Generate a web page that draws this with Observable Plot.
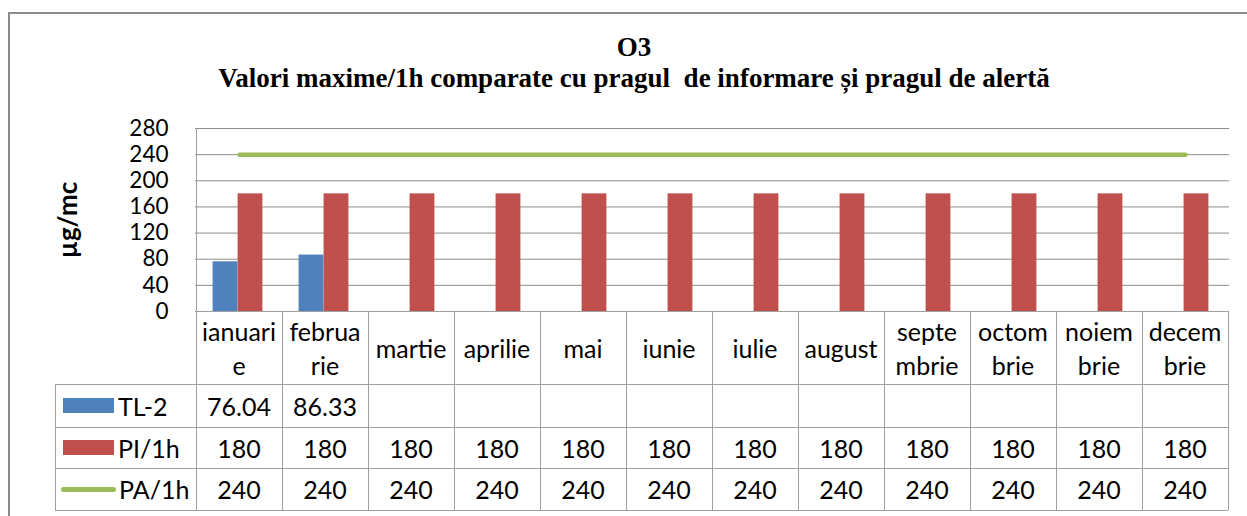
<!DOCTYPE html>
<html>
<head>
<meta charset="utf-8">
<script src="https://cdn.jsdelivr.net/npm/d3@7"></script>
<script src="https://cdn.jsdelivr.net/npm/@observablehq/plot@0.6"></script>
<style>
  body { margin: 0; background: #fff; }
  #wrap { position: relative; width: 1247px; height: 516px; overflow: hidden; background: #fff; font-family: Lato, "Open Sans", sans-serif; color: #000; }
  #frame { position: absolute; left: 8px; top: 12px; width: 1400px; height: 700px; border: 2px solid #8c8c8c; }
  .ttl { position: absolute; left: 8px; width: 1252px; text-align: center; font-family: "Liberation Serif", "DejaVu Serif", serif; font-weight: bold; line-height: 1; white-space: pre; }
  #t1 { top: 34px; font-size: 27px; }
  #t2 { top: 65px; font-size: 27px; }
  #ylab { position: absolute; left: 67px; top: 220px; transform: translate(-50%, -50%) rotate(-90deg); font-weight: bold; font-size: 26px; white-space: nowrap; }
  #chart { position: absolute; left: 0; top: 100px; }
  .ln { position: absolute; background: #a0a0a0; }
  .cell { position: absolute; display: flex; align-items: center; justify-content: center; text-align: center; font-size: 25px; line-height: 34px; }
  .lg { position: absolute; display: flex; align-items: center; font-size: 25px; }
</style>
</head>
<body>
<div id="wrap">
  <div id="frame"></div>
  <div id="t1" class="ttl">O3</div>
  <div id="t2" class="ttl">Valori maxime/1h comparate cu pragul  de informare și pragul de alertă</div>
  <div id="ylab">µg/mc</div>
  <div id="chart"></div>
  <div id="table"></div>
</div>
<script>
// ---- data ----
const months = ["ianuarie","februarie","martie","aprilie","mai","iunie","iulie","august","septembrie","octombrie","noiembrie","decembrie"];
const monthLabels = [["ianuari","e"],["februa","rie"],["martie"],["aprilie"],["mai"],["iunie"],["iulie"],["august"],["septe","mbrie"],["octom","brie"],["noiem","brie"],["decem","brie"]];
const tl2 = [76.04, 86.33, null, null, null, null, null, null, null, null, null, null];
const pi1h = [180, 180, 180, 180, 180, 180, 180, 180, 180, 180, 180, 180];
const pa1h = [240, 240, 240, 240, 240, 240, 240, 240, 240, 240, 240, 240];
const yTicks = [0, 40, 80, 120, 160, 200, 240, 280];
const seriesNames = ["TL-2", "PI/1h", "PA/1h"];
const colors = {"TL-2": "#4F81BD", "PI/1h": "#C0504D", "PA/1h": "#9BBB59"};

// ---- layout ----
const W = 1247, mL = 195, mR = 18;
const bw = (W - mL - mR) / months.length;
const barW = bw * 0.29;

const tlData = months.map((m, i) => ({month: m, value: tl2[i]})).filter(d => d.value != null);
const piData = months.map((m, i) => ({month: m, value: pi1h[i]}));
const paData = months.map((m, i) => ({month: m, value: pa1h[i]}));

const chart = Plot.plot({
  width: W,
  height: 215,
  marginLeft: mL,
  marginRight: mR,
  marginTop: 28,
  marginBottom: 4,
  style: {fontFamily: "Lato, 'Open Sans', sans-serif", fontSize: "22px", background: "transparent", color: "#000", overflow: "visible"},
  x: {domain: months, padding: 0, axis: null},
  y: {domain: [0, 280], axis: null},
  marks: [
    Plot.ruleY(yTicks, {stroke: "#8c8c8c", strokeWidth: 1, strokeOpacity: 1}),
    Plot.axisY({ticks: yTicks, tickSize: 0, tickPadding: 27, label: null, fill: "#000", fontSize: 22.5, tickFormat: d => String(d)}),
    Plot.barY(tlData, {x: "month", y: "value", fill: colors["TL-2"], insetLeft: bw / 2 - barW - 1.5, insetRight: bw / 2 + 1.5}),
    Plot.barY(piData, {x: "month", y: "value", fill: colors["PI/1h"], insetLeft: bw / 2 - 1.5, insetRight: bw / 2 - barW + 1.5}),
    Plot.lineY(paData, {x: "month", y: "value", stroke: colors["PA/1h"], strokeWidth: 4.5, strokeLinecap: "round"})
  ]
});
document.getElementById("chart").appendChild(chart);

// ---- data table (aligned to the plot's x scale) ----
const xs = chart.scale("x");
const ys = chart.scale("y");
const chartTop = 100;
const plotTop = chartTop + ys.apply(280);
const axisY0 = chartTop + ys.apply(0);
const step = xs.bandwidth;
const xLeft = xs.apply(months[0]);
const xRight = xs.apply(months[months.length - 1]) + step;
const legendLeft = 55;
const rowH = [73, 43, 41, 42];
const rowTop = [axisY0];
rowH.forEach(h => rowTop.push(rowTop[rowTop.length - 1] + h));
const tbl = document.getElementById("table");

function line(x, y, w, h) {
  const d = document.createElement("div");
  d.className = "ln";
  Object.assign(d.style, {left: x + "px", top: y + "px", width: w + "px", height: h + "px"});
  tbl.appendChild(d);
}
function cell(x, y, w, h, html) {
  const d = document.createElement("div");
  d.className = "cell";
  Object.assign(d.style, {left: x + "px", top: y + "px", width: w + "px", height: h + "px"});
  d.innerHTML = html;
  tbl.appendChild(d);
}
// plot-area left axis line + table verticals
line(xLeft - 0.5, plotTop, 1.2, rowTop[4] - plotTop);
months.forEach(m => line(xs.apply(m) + step - 0.5, axisY0, 1.2, rowTop[4] - axisY0));
line(legendLeft - 0.5, rowTop[1], 1.2, rowTop[4] - rowTop[1]);
// horizontals
line(xLeft, axisY0 - 0.5, xRight - xLeft, 1.2);
for (let r = 1; r <= 4; r++) line(legendLeft, rowTop[r] - 0.5, xRight - legendLeft, 1.2);

// header month labels
months.forEach((m, i) => cell(xs.apply(m), rowTop[0], step, rowH[0], monthLabels[i].join("<br>")));
// values
const rows = [tl2, pi1h, pa1h];
rows.forEach((vals, r) => {
  months.forEach((m, i) => {
    const v = vals[i];
    cell(xs.apply(m), rowTop[r + 1], step, rowH[r + 1], v == null ? "" : String(v));
  });
  // legend entry
  const lg = document.createElement("div");
  lg.className = "lg";
  Object.assign(lg.style, {left: (legendLeft + 6) + "px", top: rowTop[r + 1] + "px", height: rowH[r + 1] + "px"});
  const name = seriesNames[r];
  const sw = document.createElement("span");
  if (name === "PA/1h") {
    Object.assign(sw.style, {display: "inline-block", width: "55px", height: "5px", borderRadius: "3px", background: colors[name], marginRight: "3px"});
  } else {
    Object.assign(sw.style, {display: "inline-block", width: "51px", height: "15px", background: colors[name], marginLeft: "2px", marginRight: "4px"});
  }
  lg.appendChild(sw);
  lg.appendChild(document.createTextNode(name));
  tbl.appendChild(lg);
});
</script>
</body>
</html>
